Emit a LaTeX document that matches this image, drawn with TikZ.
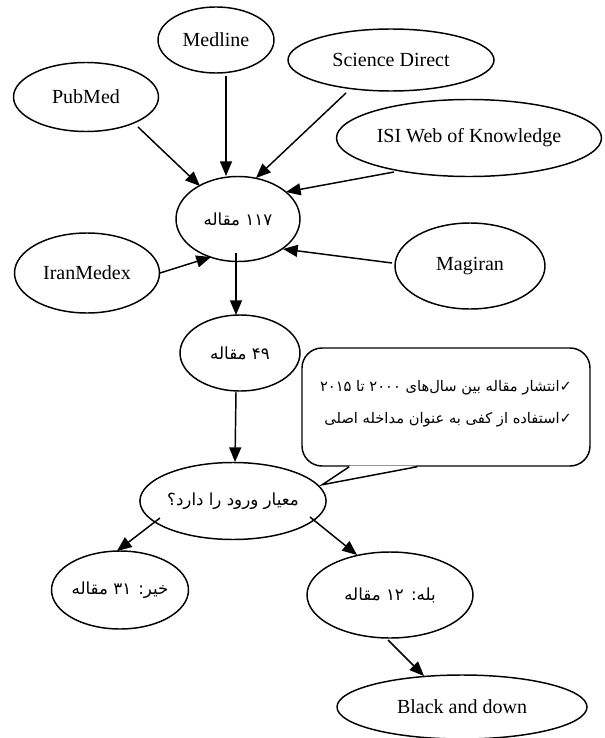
\documentclass[tikz,border=0pt]{standalone}
\usepackage{fontspec}
\usepackage{tikz}
\usetikzlibrary{shapes.geometric, arrows.meta}
\setmainfont{Liberation Serif}
\newfontfamily\persfont[Script=Arabic]{DejaVu Sans}
\TeXXeTstate=1
\newcommand\rl[1]{{\persfont\fontsize{12.5}{14}\selectfont\beginR #1\endR}}

\tikzset{
  db/.style={ellipse, draw, line width=1.1pt, inner sep=0pt, font=\fontsize{15}{17}\selectfont},
  sz/.style 2 args={minimum width=#1*0.75pt, minimum height=#2*0.75pt},
  arr/.style={line width=1.1pt, -{Triangle[length=11pt, width=9pt]}}
}

\begin{document}
\begin{tikzpicture}[x=0.75pt, y=-0.75pt]
  \useasboundingbox (0,0) rectangle (604,738);

  \node[db, sz={145}{69}] (pubmed) at (86,97) {PubMed};
  \node[db, sz={116}{66}] (medline) at (216,40) {Medline};
  \node[db, sz={206}{62}] (sd) at (391,60) {Science Direct};
  \node[db, sz={265}{77}] (isi) at (469,138) {ISI Web of Knowledge};
  \node[db, sz={124}{85}] (n117) at (238,219) {\rl{۱۱۷ مقاله}};
  \node[db, sz={145}{80}] (iran) at (87,273) {IranMedex};
  \node[db, sz={150}{86}] (magiran) at (470,266) {Magiran};
  \node[db, sz={120}{76}] (n49) at (240,353) {\rl{۴۹ مقاله}};
  \node[db, sz={170}{77}] (crit) at (233,501) {\rl{معیار ورود را دارد؟}};
  \node[db, sz={134}{78}] (no) at (120,590) {\rl{خیر: ۳۱ مقاله}};
  \node[db, sz={166}{86}] (yes) at (390,595) {\rl{بله: ۱۲ مقاله}};
  \node[db, sz={250}{64}] (bad) at (462,707) {Black and down};

  % criteria note
  \node[draw, line width=1.1pt, rounded corners=15pt, sz={288}{118},
        align=right, font=\fontsize{11}{24}\selectfont] (note) at (446,407)
        {{\persfont\beginR ✓انتشار مقاله بین سال‌های ۲۰۰۰ تا ۲۰۱۵\endR}\\
         {\persfont\beginR ✓استفاده از کفی به عنوان مداخله اصلی\endR}\\[-16pt]};
  \fill[white] ([shift={(49,-1)}]note.south west) -- ([shift={(115,-1)}]note.south west)
               -- ([shift={(21,18)}]note.south west) -- cycle;
  \draw[line width=1.1pt] ([shift={(48,0)}]note.south west) -- ([shift={(21,18)}]note.south west)
               -- ([shift={(116,0)}]note.south west);

  \draw[arr] ([shift={(52,30)}]pubmed.center) -- ([shift={(-38,-33)}]n117.center);
  \draw[arr] ([shift={(10,36)}]medline.center) -- ([shift={(-12,-43)}]n117.center);
  \draw[arr] ([shift={(-45,33)}]sd.center) -- ([shift={(18,-41)}]n117.center);
  \draw[arr] ([shift={(-75,34)}]isi.center) -- ([shift={(48,-27)}]n117.center);
  \draw[arr] ([shift={(-78,-3)}]magiran.center) -- ([shift={(45,30)}]n117.center);
  \draw[arr] ([shift={(73,0)}]iran.center) -- ([shift={(-27,38)}]n117.center);
  \draw[arr] ([shift={(-2,34)}]n117.center) -- ([shift={(-4,-38)}]n49.center);
  \draw[arr] ([shift={(-4,39)}]n49.center) -- ([shift={(2,-39)}]crit.center);
  \draw[arr] ([shift={(-73,17)}]crit.center) -- ([shift={(-3,-39)}]no.center);
  \draw[arr] ([shift={(77,16)}]crit.center) -- ([shift={(-33,-40)}]yes.center);
  \draw[arr] ([shift={(-2,45)}]yes.center) -- ([shift={(-38,-31)}]bad.center);
\end{tikzpicture}
\end{document}
